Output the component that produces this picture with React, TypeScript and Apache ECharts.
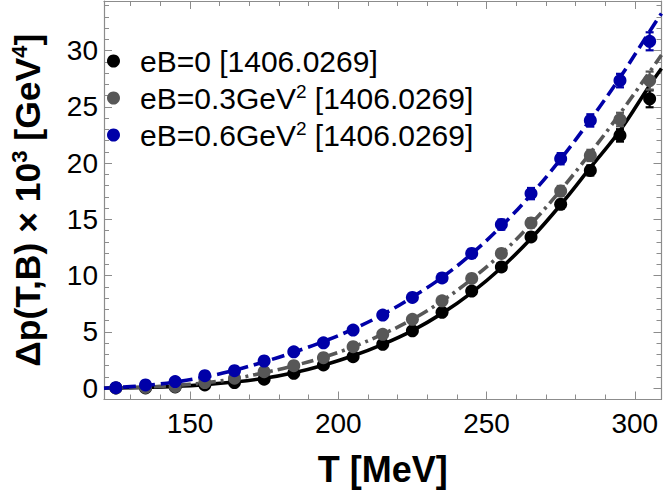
import React, { useEffect, useRef } from "react";
import * as echarts from "echarts";

// ---- data ----
const temps = [125, 135, 145, 155, 165, 175, 185, 195, 205, 215, 225, 235, 245, 255, 265, 275, 285, 295, 305];
const pBlack = [0.03, 0.03, 0.12, 0.29, 0.5, 0.8, 1.33, 2.07, 2.8, 3.9, 5.1, 6.74, 8.63, 10.78, 13.44, 16.34, 19.35, 22.46, 25.71];
const pGray = [0.03, 0.07, 0.16, 0.5, 0.89, 1.47, 2.0, 2.71, 3.69, 4.79, 6.12, 7.77, 9.75, 11.97, 14.68, 17.52, 20.68, 23.87, 27.33];
const pBlue = [0.05, 0.29, 0.59, 1.12, 1.56, 2.42, 3.24, 4.04, 5.17, 6.5, 8.07, 9.8, 11.97, 14.54, 17.29, 20.39, 23.79, 27.33, 30.82];
const eBlack = [0.05, 0.05, 0.05, 0.05, 0.05, 0.08, 0.1, 0.1, 0.15, 0.15, 0.2, 0.2, 0.25, 0.3, 0.35, 0.4, 0.45, 0.55, 0.75];
const eGray = [0.05, 0.05, 0.05, 0.05, 0.08, 0.1, 0.1, 0.12, 0.15, 0.2, 0.2, 0.25, 0.3, 0.35, 0.4, 0.45, 0.5, 0.6, 0.8];
const eBlue = [0.05, 0.05, 0.05, 0.08, 0.1, 0.12, 0.15, 0.18, 0.2, 0.25, 0.3, 0.35, 0.4, 0.45, 0.5, 0.5, 0.55, 0.6, 0.8];

const fitT = [121, 125, 135, 145, 155, 165, 175, 185, 195, 205, 215, 225, 235, 245, 255, 265, 275, 285, 295, 305, 309];
const fitBlack = [0, 0.02, 0.08, 0.17, 0.32, 0.55, 0.88, 1.38, 2.05, 2.88, 3.9, 5.12, 6.65, 8.5, 10.7, 13.3, 16.3, 19.6, 22.9, 26.9, 28.4];
const fitGray = [0, 0.03, 0.1, 0.25, 0.48, 0.85, 1.38, 2.0, 2.75, 3.68, 4.8, 6.12, 7.75, 9.7, 11.95, 14.6, 17.6, 20.9, 24.4, 28.1, 29.6];
const fitBlue = [0, 0.06, 0.25, 0.55, 1.0, 1.6, 2.35, 3.2, 4.15, 5.25, 6.55, 8.1, 9.85, 11.95, 14.4, 17.2, 20.35, 23.85, 27.6, 31.7, 33.3];

const names = ["eB=0 [1406.0269]", "eB=0.3GeV2 [1406.0269]", "eB=0.6GeV2 [1406.0269]"];
const colors = ["#000000", "#575757", "#0000a8"];

const xMajor = [150, 200, 250, 300];
const xMinor = [130, 140, 160, 170, 180, 190, 210, 220, 230, 240, 260, 270, 280, 290];
const yMajor = [0, 5, 10, 15, 20, 25, 30];
const yMinor = [1, 2, 3, 4, 6, 7, 8, 9, 11, 12, 13, 14, 16, 17, 18, 19, 21, 22, 23, 24, 26, 27, 28, 29, 31, 32, 33, 34];

const X_MIN = 121;
const X_MAX = 309;
const Y_MIN = -1;
const Y_MAX = 34.4;

const FONT = "'Liberation Sans', Arial, sans-serif";
const FRAME = "#8c8c8c";

export default function App() {
  const ref = useRef<HTMLDivElement>(null);

  useEffect(() => {
    if (!ref.current) return;
    const chart = echarts.init(ref.current, undefined, { renderer: "svg" });

    const axisBase = (pos: string, ticks: number[], len: number, showLine: boolean, labels: boolean, isX: boolean) => ({
      type: "value",
      min: isX ? X_MIN : Y_MIN,
      max: isX ? X_MAX : Y_MAX,
      position: pos,
      gridIndex: 0,
      axisLine: { show: showLine, onZero: false, lineStyle: { color: FRAME, width: 1.2 } },
      axisTick: { show: true, inside: true, length: len, customValues: ticks, lineStyle: { color: FRAME, width: 1 } },
      axisLabel: labels
        ? { show: true, customValues: ticks, fontSize: 28, color: "#000", fontFamily: FONT, margin: isX ? 10 : 6 }
        : { show: false },
      splitLine: { show: false },
      minorTick: { show: false },
    });

    const errSeries = (vals: number[], errs: number[], color: string, idx: number) => ({
      type: "custom",
      name: "err" + idx,
      xAxisIndex: 0,
      yAxisIndex: 0,
      z: 4,
      data: temps.map((t, i) => [t, vals[i] - errs[i], vals[i] + errs[i]]),
      encode: { x: 0, y: [1, 2] },
      renderItem: (params: any, api: any) => {
        const x = api.value(0);
        const p1 = api.coord([x, api.value(1)]);
        const p2 = api.coord([x, api.value(2)]);
        const w = 4;
        const st = { stroke: color, lineWidth: 2.2 };
        return {
          type: "group",
          children: [
            { type: "line", shape: { x1: p1[0], y1: p1[1], x2: p2[0], y2: p2[1] }, style: st },
            { type: "line", shape: { x1: p1[0] - w, y1: p1[1], x2: p1[0] + w, y2: p1[1] }, style: st },
            { type: "line", shape: { x1: p2[0] - w, y1: p2[1], x2: p2[0] + w, y2: p2[1] }, style: st },
          ],
        };
      },
    });

    const fitSeries = (vals: number[], color: string, type: any, idx: number) => ({
      type: "line",
      name: "fit" + idx,
      xAxisIndex: 0,
      yAxisIndex: 0,
      data: fitT.map((t, i) => [t, vals[i]]),
      smooth: 0.4,
      showSymbol: false,
      symbol: "none",
      z: 2,
      lineStyle: { color, width: 3.6, type, cap: "butt" },
    });

    const ptSeries = (vals: number[], color: string, idx: number) => ({
      type: "scatter",
      name: names[idx],
      xAxisIndex: 0,
      yAxisIndex: 0,
      data: temps.map((t, i) => [t, vals[i]]),
      symbol: "circle",
      symbolSize: 13,
      z: 5,
      itemStyle: { color, opacity: 1 },
    });

    const supFmt = (n: string) => n.replace("GeV2", "GeV{sup|2}");

    chart.setOption({
      animation: false,
      backgroundColor: "#ffffff",
      grid: { left: 92.3, right: 2.5, top: 1, bottom: 97.5, containLabel: false },
      legend: {
        data: names,
        orient: "vertical",
        left: 102,
        top: 40,
        icon: "circle",
        itemWidth: 13,
        itemHeight: 13,
        itemGap: 5,
        selectedMode: false,
        formatter: supFmt,
        textStyle: {
          fontSize: 30,
          fontFamily: FONT,
          color: "#000",
          lineHeight: 32,
          padding: [0, 0, 0, 15],
          rich: {
            sup: { fontSize: 19, fontFamily: FONT, color: "#000", verticalAlign: "top", lineHeight: 17 },
          },
        },
      },
      xAxis: [
        {
          ...axisBase("bottom", xMajor, 8, true, true, true),
          name: "T [MeV]",
          nameLocation: "middle",
          nameGap: 52,
          nameTextStyle: { fontSize: 36, fontWeight: "bold", fontFamily: FONT, color: "#000" },
        },
        axisBase("bottom", xMinor, 5, false, false, true),
        axisBase("top", xMajor, 8, true, false, true),
        axisBase("top", xMinor, 5, false, false, true),
      ],
      yAxis: [
        {
          ...axisBase("left", yMajor, 8, true, true, false),
          name: "Δp(T,B) × 10{sup|3} [GeV{sup|4}]",
          nameLocation: "middle",
          nameRotate: 90,
          nameGap: 56,
          nameTextStyle: {
            fontSize: 35.5,
            fontWeight: "bold",
            fontFamily: FONT,
            color: "#000",
            lineHeight: 40,
            rich: {
              sup: { fontSize: 22, fontWeight: "bold", fontFamily: FONT, color: "#000", verticalAlign: "top", lineHeight: 20 },
            },
          },
        },
        axisBase("left", yMinor, 5, false, false, false),
        axisBase("right", yMajor, 8, true, false, false),
        axisBase("right", yMinor, 5, false, false, false),
      ],
      series: [
        fitSeries(fitBlack, colors[0], "solid", 0),
        fitSeries(fitGray, colors[1], [12, 5, 3, 5], 1),
        fitSeries(fitBlue, colors[2], [13, 6], 2),
        errSeries(pBlack, eBlack, colors[0], 0),
        errSeries(pGray, eGray, colors[1], 1),
        errSeries(pBlue, eBlue, colors[2], 2),
        ptSeries(pBlack, colors[0], 0),
        ptSeries(pGray, colors[1], 1),
        ptSeries(pBlue, colors[2], 2),
      ],
    });

    return () => chart.dispose();
  }, []);

  return (
    <div
      ref={ref}
      style={{ position: "absolute", left: 0, top: 0, width: 664, height: 497, background: "#fff" }}
    />
  );
}
